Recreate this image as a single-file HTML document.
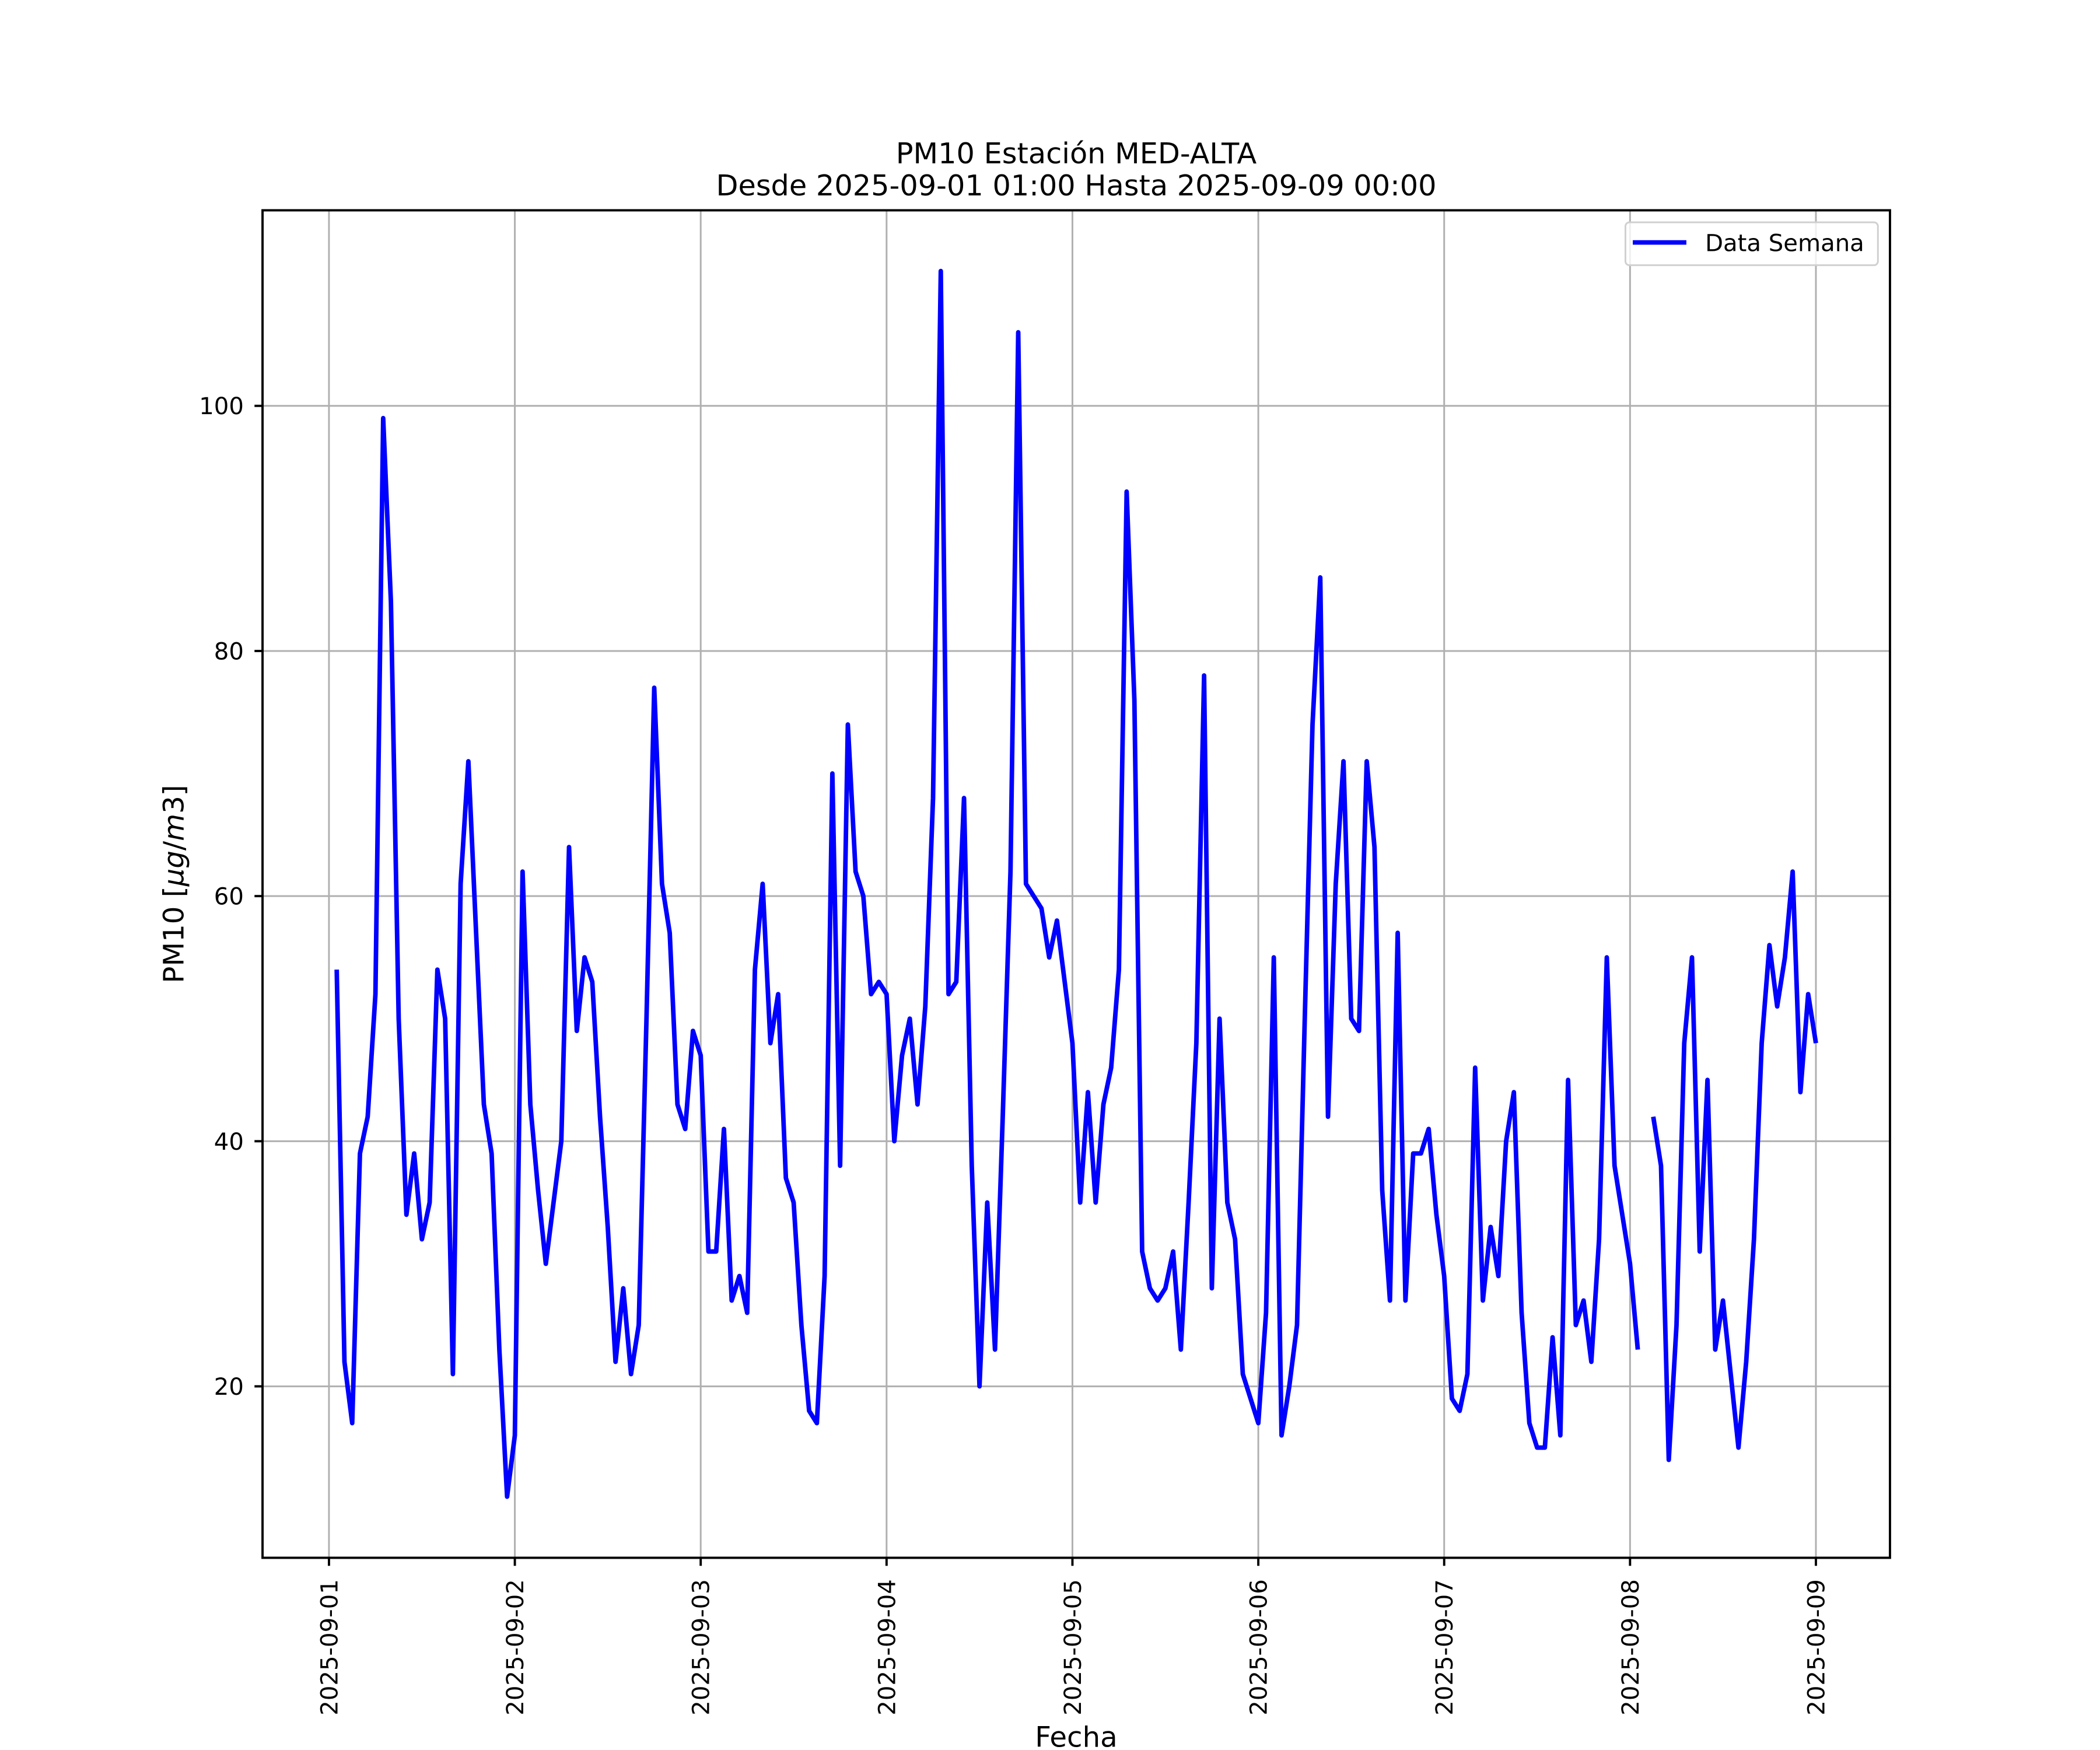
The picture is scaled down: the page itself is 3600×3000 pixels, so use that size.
<!DOCTYPE html>
<html><head><meta charset="utf-8"><style>html,body{margin:0;padding:0;background:#fff}svg{display:block}</style></head>
<body>
<svg id="s" xmlns="http://www.w3.org/2000/svg" width="3600" height="3000" viewBox="0 0 1567.8 1306.5" font-family="'DejaVu Sans','Liberation Sans',sans-serif">
<rect width="1567.8" height="1306.5" fill="#fff"/>
<g id="grid" stroke="#b0b0b0" stroke-width="1.3"></g>
<g id="data" fill="none" stroke="#0000ff" stroke-width="3.4" stroke-linejoin="round" stroke-linecap="butt"></g>
<rect x="196" y="157" width="1215" height="1006" fill="none" stroke="#000" stroke-width="1.7"/>
<g id="ticks" stroke="#000" stroke-width="1.7"></g>
<g id="labels" font-size="17.5" fill="#000"></g>
<text x="803.5" y="122" font-size="21.5" text-anchor="middle">PM10 Estación MED-ALTA</text>
<text x="803.5" y="146" font-size="21.5" text-anchor="middle">Desde 2025-09-01 01:00 Hasta 2025-09-09 00:00</text>
<text x="803.5" y="1304" font-size="21" text-anchor="middle">Fecha</text>
<text transform="translate(137,660) rotate(-90)" font-size="21" text-anchor="middle">PM10 [<tspan font-style="italic">μg</tspan>/<tspan font-style="italic">m</tspan>3]</text>
<rect x="1213.5" y="166" width="188.5" height="32" rx="3" fill="#fff" fill-opacity="0.8" stroke="#d0d0d0" stroke-width="1.3"/>
<line x1="1219" y1="181" x2="1259" y2="181" stroke="#0000ff" stroke-width="3.4"/>
<text x="1273" y="187.5" font-size="17.5">Data Semana</text>
</svg>
<script>
(function(){
var NS="http://www.w3.org/2000/svg";
function el(p,t,a,txt){var e=document.createElementNS(NS,t);for(var k in a)e.setAttribute(k,a[k]);if(txt)e.textContent=txt;document.getElementById(p).appendChild(e);return e;}
function X(h){return 245.6+h*(1355.7-245.6)/192;}
function Y(v){return 1035-(v-20)*9.15;}
var g="";
for(var d=0;d<=8;d++){var x=X(d*24);
 el("grid","line",{x1:x,y1:157,x2:x,y2:1163});
 el("ticks","line",{x1:x,y1:1163,x2:x,y2:1169});
 el("labels","text",{transform:"translate("+(x+6.3)+",1179) rotate(-90)","text-anchor":"end"},"2025-09-0"+(d+1));
}
for(var v=20;v<=100;v+=20){var y=Y(v);
 el("grid","line",{x1:196,y1:y,x2:1411,y2:y});
 el("ticks","line",{x1:190,y1:y,x2:196,y2:y});
 el("labels","text",{x:182,y:y+6.3,"text-anchor":"end"},""+v);
}
var N=null;
var data=[54,22,17,39,42,52,99,84,50,34,39,32,35,54,50,21,61,71,57,43,39,23,11,16,
62,43,36,30,35,40,64,49,55,53,42,33,22,28,21,25,50,77,61,57,43,41,49,47,
31,31,41,27,29,26,54,61,48,52,37,35,25,18,17,29,70,38,74,62,60,52,53,52,
40,47,50,43,51,68,111,52,53,68,38,20,35,23,42,62,106,61,60,59,55,58,53,48,
35,44,35,43,46,54,93,76,31,28,27,28,31,23,35,48,78,28,50,35,32,21,19,17,
26,55,16,20,25,50,74,86,42,61,71,50,49,71,64,36,27,57,27,39,39,41,34,29,
19,18,21,46,27,33,29,40,44,26,17,15,15,24,16,45,25,27,22,32,55,38,34,30,
23,N,42,38,14,25,48,55,31,45,23,27,21,15,22,32,48,56,51,55,62,44,52,48];
var segs=[],cur="";
for(var i=0;i<data.length;i++){var h=i+1;
 if(data[i]===null){if(cur)segs.push(cur);cur="";continue;}
 cur+=(cur?" L":"M")+X(h).toFixed(2)+" "+Y(data[i]).toFixed(2);}
if(cur)segs.push(cur);
segs.forEach(function(s){el("data","path",{d:s});});
})();
</script>
</body></html>
